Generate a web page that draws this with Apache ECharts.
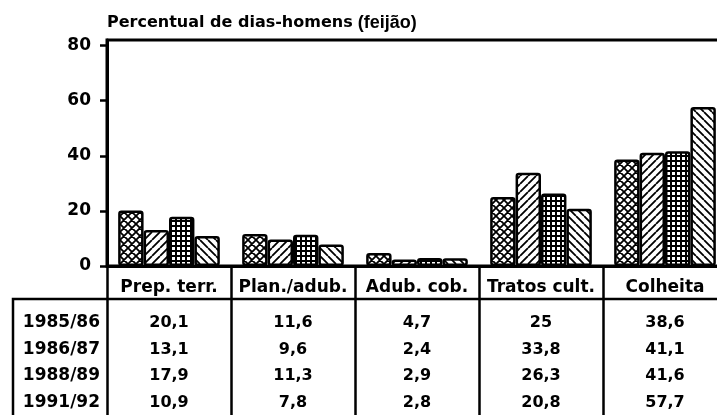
<!DOCTYPE html>
<html>
<head>
    <meta charset="utf-8">
    <title>Percentual de dias-homens (feijão)</title>
    <script src="https://cdnjs.cloudflare.com/ajax/libs/echarts/6.0.0/echarts.min.js"></script>
    <style>
        html, body { margin: 0; padding: 0; background: #fff; }
        #chart { width: 717px; height: 415px; }
    </style>
</head>
<body>
    <div id="chart"></div>
    <script>
        // dados
        const etapas = ['Prep. terr.', 'Plan./adub.', 'Adub. cob.', 'Tratos cult.', 'Colheita'];
        const safras = ['1985/86', '1986/87', '1988/89', '1991/92'];
        const v8586 = [20.1, 11.6, 4.7, 25, 38.6];
        const v8687 = [13.1, 9.6, 2.4, 33.8, 41.1];
        const v8889 = [17.9, 11.3, 2.9, 26.3, 41.6];
        const v9192 = [10.9, 7.8, 2.8, 20.8, 57.7];
        const yTicks = [0, 20, 40, 60, 80];

        const valores = [v8586, v8687, v8889, v9192];
        const fonte = '"DejaVu Sans", sans-serif';

        // hachuras em preto e branco
        function hachura(tipo) {
            const n = tipo === 'grade' ? 5 : 8;
            const c = document.createElement('canvas');
            c.width = n; c.height = n;
            const g = c.getContext('2d');
            g.fillStyle = '#fff';
            g.fillRect(0, 0, n, n);
            g.fillStyle = '#000';
            g.strokeStyle = '#000';
            g.lineWidth = 1.8;
            if (tipo === 'grade') {
                g.fillRect(0, 0, n, 2);
                g.fillRect(0, 0, 2, n);
            } else {
                g.beginPath();
                for (const o of [-n, 0, n]) {
                    if (tipo === 'barra' || tipo === 'xadrez') {
                        g.moveTo(o, n); g.lineTo(o + n, 0);
                    }
                    if (tipo === 'contra' || tipo === 'xadrez') {
                        g.moveTo(o, 0); g.lineTo(o + n, n);
                    }
                }
                g.stroke();
            }
            return { image: c, repeat: 'repeat' };
        }
        const padroes = [hachura('xadrez'), hachura('barra'), hachura('grade'), hachura('contra')];

        const fmt = v => String(v).replace('.', ',');
        const offsets = [57, 84, 110, 137];

        const xAxes = [{
            type: 'category',
            data: etapas,
            gridIndex: 0,
            position: 'bottom',
            axisLine: { lineStyle: { color: '#000', width: 3 } },
            axisTick: { show: true, interval: 0, length: 160, alignWithLabel: false, lineStyle: { color: '#000', width: 2.5 } },
            axisLabel: {
                interval: 0, margin: 22, verticalAlign: 'middle',
                color: '#000', fontFamily: fonte, fontWeight: 'bold', fontSize: 17
            }
        }];
        safras.forEach((s, i) => {
            xAxes.push({
                type: 'category',
                data: valores[i].map(fmt),
                gridIndex: 0,
                position: 'bottom',
                offset: offsets[i],
                name: s,
                nameLocation: 'start',
                nameGap: 7,
                nameTextStyle: { color: '#000', fontFamily: fonte, fontWeight: 'bold', fontSize: 17, verticalAlign: 'middle' },
                axisLine: { show: false },
                axisTick: { show: false },
                axisLabel: {
                    interval: 0, margin: 0, verticalAlign: 'middle',
                    color: '#000', fontFamily: fonte, fontWeight: 'bold', fontSize: 16
                }
            });
        });

        const chart = echarts.init(document.getElementById('chart'));
        const option = {
            backgroundColor: '#fff',
            animation: false,
            title: {
                left: 107,
                top: 14,
                padding: 0,
                text: '{b|Percentual de dias-homens} {r|(feijão)}',
                textStyle: {
                    rich: {
                        b: { fontFamily: fonte, fontWeight: 'bold', fontSize: 16, color: '#000' },
                        r: { fontFamily: '"Liberation Sans", Arial, sans-serif', fontWeight: 'bold', fontSize: 18, color: '#000' }
                    }
                }
            },
            grid: {
                left: 107, top: 40, width: 620, height: 226,
                outerBoundsMode: 'none',
                containLabel: false,
                show: true, borderColor: '#000', borderWidth: 3
            },
            xAxis: xAxes,
            yAxis: {
                type: 'value',
                min: 0,
                max: 82,
                axisLine: { show: true, lineStyle: { color: '#000', width: 3 } },
                axisTick: { show: true, length: 7, customValues: yTicks, lineStyle: { color: '#000', width: 2.5 } },
                splitLine: { show: false },
                axisLabel: {
                    customValues: yTicks, margin: 16,
                    color: '#000', fontFamily: fonte, fontWeight: 'bold', fontSize: 17
                }
            },
            series: safras.map((s, i) => ({
                name: s,
                type: 'bar',
                xAxisIndex: 0,
                data: valores[i],
                barGap: '0%',
                barCategoryGap: '18%',
                itemStyle: { color: padroes[i], borderColor: '#000', borderWidth: 2.5, borderRadius: 2 }
            })),
            graphic: [{
                type: 'polyline',
                shape: { points: [[13, 430], [13, 299], [720, 299]] },
                style: { stroke: '#000', lineWidth: 2.5, fill: null }
            }]
        };
        chart.setOption(option);
    </script>
</body>
</html>
